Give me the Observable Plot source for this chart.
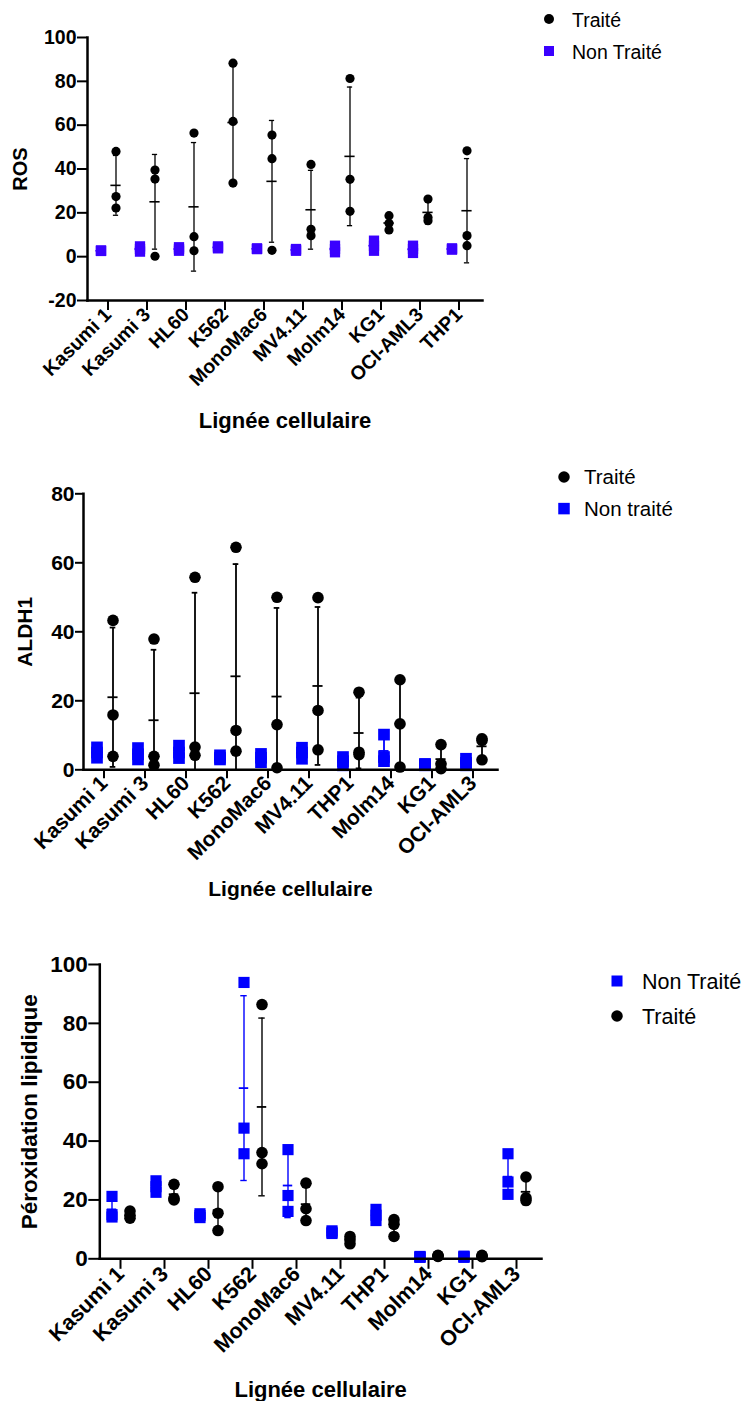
<!DOCTYPE html>
<html><head><meta charset="utf-8">
<script src="https://cdn.jsdelivr.net/npm/d3@7"></script>
<script src="https://cdn.jsdelivr.net/npm/@observablehq/plot@0.6"></script>
<style>
body{margin:0;background:#fff}
#fig{position:relative;width:746px;height:1401px;overflow:hidden;background:#fff}
.panel{position:absolute;left:0}
.overlay{position:absolute;left:0;top:0;pointer-events:none}
</style></head><body><div id="fig"></div>
<script>
// ---------- DATA ----------
// Panel 1 : ROS
const rosCats = ["Kasumi 1","Kasumi 3","HL60","K562","MonoMac6","MV4.11","Molm14","KG1","OCI-AML3","THP1"];
const rosTraite = [[48.0,27.4,22.2],[39.5,35.4,0.2],[56.4,9.1,2.7],[88.3,61.7,33.6],[55.5,44.7,2.9],[42.1,12.5,9.6],[81.3,35.3,20.7],[18.7,15.2,12.2],[26.3,17.9,16.4],[48.3,9.6,5.0]];
const rosNonTraite = [[2.8,2.7,2.6],[4.7,3.5,2.3],[4.3,3.5,2.7],[4.7,4.2,3.8],[3.8,3.5,3.5],[3.5,3.0,2.7],[5.0,3.5,2.0],[7.3,5.0,2.7],[5.0,3.5,1.7],[3.8,3.5,3.2]];
const rosTicks = [-20,0,20,40,60,80,100];

// Panel 2 : ALDH1
const aldhCats = ["Kasumi 1","Kasumi 3","HL60","K562","MonoMac6","MV4.11","THP1","Molm14","KG1","OCI-AML3"];
const aldhTraite = [[43.3,15.9,3.9],[37.9,3.9,1.3],[55.8,6.6,4.2],[64.5,11.4,5.4],[50.0,13.1,0.6],[49.9,17.2,5.8],[22.5,5.1,4.4],[26.1,13.3,0.8],[7.3,1.7,0.3],[9.0,8.5,2.9]];
const aldhNonTraite = [[6.5,5.0,3.5],[6.3,4.5,3.0],[7.0,5.0,3.4],[4.2,3.5,3.0],[4.6,3.5,2.2],[6.4,5.0,3.2],[3.7,2.5,1.3],[10.2,3.7,2.5],[1.7,1.5,1.3],[3.2,2.0,1.3]];
const aldhTicks = [0,20,40,60,80];

// Panel 3 : Péroxidation lipidique
const peroxCats = ["Kasumi 1","Kasumi 3","HL60","K562","MonoMac6","MV4.11","THP1","Molm14","KG1","OCI-AML3"];
const peroxNonTraite = [[21.2,15.0,14.2],[26.5,24.5,22.6],[15.3,14.7,14.0],[93.9,44.4,35.7],[37.1,21.5,16.1],[9.5,9.0,8.6],[16.8,14.8,13.0],[0.8,0.6,0.5],[0.9,0.7,0.5],[35.7,26.1,21.9]];
const peroxTraite = [[16.2,14.8,13.8],[25.3,20.5,20.0],[24.5,15.5,9.6],[86.4,36.1,32.3],[25.7,17.0,13.0],[7.6,6.5,5.1],[13.3,11.7,7.6],[1.2,1.0,0.8],[1.2,0.9,0.7],[27.8,20.7,19.8]];
const peroxTicks = [0,20,40,60,80,100];

const xTitle = "Lignée cellulaire";
// ---------- END DATA ----------

const FONT = '"Liberation Sans", Arial, Helvetica, sans-serif';
const fig = document.getElementById("fig");

function summarize(cats, vals, ymin) {
  return cats.map((c, i) => {
    const v = vals[i], m = d3.mean(v), s = d3.deviation(v);
    return {cat: c, mean: m, hi: m + s, lo: Math.max(m - s, ymin), lowCap: m - s >= ymin};
  });
}
function points(cats, vals) {
  return cats.flatMap((c, i) => vals[i].map(v => ({cat: c, v})));
}

function panel(cfg) {
  const bw = (cfg.xr[1] - cfg.xr[0]) / cfg.cats.length;
  const ymin = cfg.yDomain[0];
  const marks = [];
  for (const s of cfg.series) {
    const st = summarize(cfg.cats, s.values, ymin);
    const col = s.bar;
    const ins = w => ({insetLeft: (bw - w) / 2, insetRight: (bw - w) / 2});
    marks.push(
      Plot.ruleX(st, {x: "cat", y1: "lo", y2: "hi", dx: s.dx, stroke: col, strokeWidth: cfg.whiskerW}),
      Plot.tickY(st, {x: "cat", y: "mean", dx: s.dx, stroke: col, strokeWidth: cfg.meanSW, ...ins(cfg.meanW)}),
      Plot.tickY(st, {x: "cat", y: "hi", dx: s.dx, stroke: col, strokeWidth: cfg.whiskerW, ...ins(cfg.capW)}),
      Plot.tickY(st.filter(d => d.lowCap), {x: "cat", y: "lo", dx: s.dx, stroke: col, strokeWidth: cfg.whiskerW, ...ins(cfg.capW)})
    );
  }
  for (const s of cfg.series) {
    marks.push(Plot.dot(points(cfg.cats, s.values), {x: "cat", y: "v", dx: s.dx, symbol: s.symbol, r: s.r, fill: s.color, stroke: "none"}));
  }
  marks.push(
    Plot.axisY({ticks: cfg.yTicks, tickSize: cfg.yTickSize, tickPadding: 1, fontSize: cfg.tickFont, fontWeight: "bold", strokeWidth: 2, label: null, tickFormat: d => String(d), fill: "black"}),
    Plot.axisX({tickSize: cfg.xTickSize, tickPadding: 1, tickRotate: -45, fontSize: cfg.xFont, fontWeight: "bold", strokeWidth: 2, label: null, fill: "black"}),
    Plot.frame({anchor: "left", strokeWidth: 2.5, stroke: "black"}),
    Plot.frame({anchor: "bottom", strokeWidth: 2.5, stroke: "black"}),
    Plot.text([cfg.yLabel], {text: d => d, frameAnchor: "left", textAnchor: "middle", dx: -cfg.yLabelOffset, rotate: -90, lineAnchor: "top", fontSize: cfg.yLabelFont, fontWeight: "bold", fill: "black"}),
    Plot.text([xTitle], {text: d => d, frameAnchor: "bottom", textAnchor: "middle", dy: cfg.xLabelOffset, lineAnchor: "bottom", fontSize: cfg.xLabelFont, fontWeight: "bold", fill: "black"})
  );
  const svg = Plot.plot({
    width: 746, height: cfg.height,
    marginTop: cfg.mt, marginBottom: cfg.mb, marginLeft: cfg.ml, marginRight: cfg.mr,
    x: {type: "band", domain: cfg.cats, range: cfg.xr, padding: 0},
    y: {domain: cfg.yDomain},
    style: {fontFamily: FONT, color: "black", background: "transparent", overflow: "visible"},
    marks
  });
  const div = document.createElement("div");
  div.className = "panel";
  div.style.top = cfg.top + "px";
  div.appendChild(svg);
  fig.appendChild(div);
}

const violet = "#3a00ff", blue = "#0000ff";

panel({
  cats: rosCats, top: 0, height: 440, mt: 37, mb: 140, ml: 87, mr: 264, xr: [84.1, 481.9],
  yDomain: [-20, 100], yTicks: rosTicks, yTickSize: 10, xTickSize: 10,
  tickFont: 19.5, xFont: 19.5, yLabel: "ROS", yLabelOffset: 75, yLabelFont: 20, xLabelOffset: 127, xLabelFont: 22,
  whiskerW: 1.3, meanSW: 1.6, meanW: 11, capW: 6,
  series: [
    {values: rosNonTraite, color: violet, bar: violet, symbol: "square", r: 5.8, dx: -7},
    {values: rosTraite, color: "black", bar: "black", symbol: "circle", r: 4.6, dx: 8}
  ]
});

panel({
  cats: aldhCats, top: 440, height: 460, mt: 53.3, mb: 130.7, ml: 83, mr: 249, xr: [79.05, 497.95],
  yDomain: [0, 80], yTicks: aldhTicks, yTickSize: 8, xTickSize: 9,
  tickFont: 21, xFont: 21, yLabel: "ALDH1", yLabelOffset: 66, yLabelFont: 21, xLabelOffset: 126, xLabelFont: 21,
  whiskerW: 1.8, meanSW: 1.8, meanW: 11, capW: 6.5,
  series: [
    {values: aldhNonTraite, color: blue, bar: blue, symbol: "square", r: 6.6, dx: -7},
    {values: aldhTraite, color: "black", bar: "black", symbol: "circle", r: 5.8, dx: 9}
  ]
});

panel({
  cats: peroxCats, top: 940, height: 461, mt: 24, mb: 142.7, ml: 99.3, mr: 205, xr: [95.7, 541.3],
  yDomain: [0, 100], yTicks: peroxTicks, yTickSize: 11, xTickSize: 10.5,
  tickFont: 22.5, xFont: 21.5, yLabel: "Péroxidation lipidique", yLabelOffset: 79, yLabelFont: 22.5, xLabelOffset: 138, xLabelFont: 22,
  whiskerW: 1.4, meanSW: 1.8, meanW: 10, capW: 7,
  series: [
    {values: peroxNonTraite, color: blue, bar: blue, symbol: "square", r: 6.3, dx: -8.5},
    {values: peroxTraite, color: "black", bar: "black", symbol: "circle", r: 5.8, dx: 9.5}
  ]
});

// ---------- Legends ----------
const ov = d3.select(fig).append("svg").attr("class", "overlay").attr("width", 746).attr("height", 1401)
  .style("font-family", FONT);
function legend(items, x, tx, fs) {
  for (const it of items) {
    if (it.symbol === "circle") ov.append("circle").attr("cx", x).attr("cy", it.y).attr("r", it.size / 2).attr("fill", it.color);
    else ov.append("rect").attr("x", x - it.size / 2).attr("y", it.y - it.size / 2).attr("width", it.size).attr("height", it.size).attr("fill", it.color);
    ov.append("text").attr("x", tx).attr("y", it.base).attr("font-size", fs).attr("fill", "black").text(it.label);
  }
}
legend([
  {symbol: "circle", color: "black", size: 10, y: 19, base: 26.5, label: "Traité"},
  {symbol: "square", color: violet, size: 10, y: 51, base: 59, label: "Non Traité"}
], 549, 572, 19.5);
legend([
  {symbol: "circle", color: "black", size: 11.5, y: 477, base: 483.5, label: "Traité"},
  {symbol: "square", color: blue, size: 11.5, y: 508.6, base: 515.5, label: "Non traité"}
], 564, 584, 20.5);
legend([
  {symbol: "square", color: blue, size: 11, y: 981, base: 989, label: "Non Traité"},
  {symbol: "circle", color: "black", size: 11.5, y: 1016, base: 1024, label: "Traité"}
], 617, 642, 21.5);
</script></body></html>
